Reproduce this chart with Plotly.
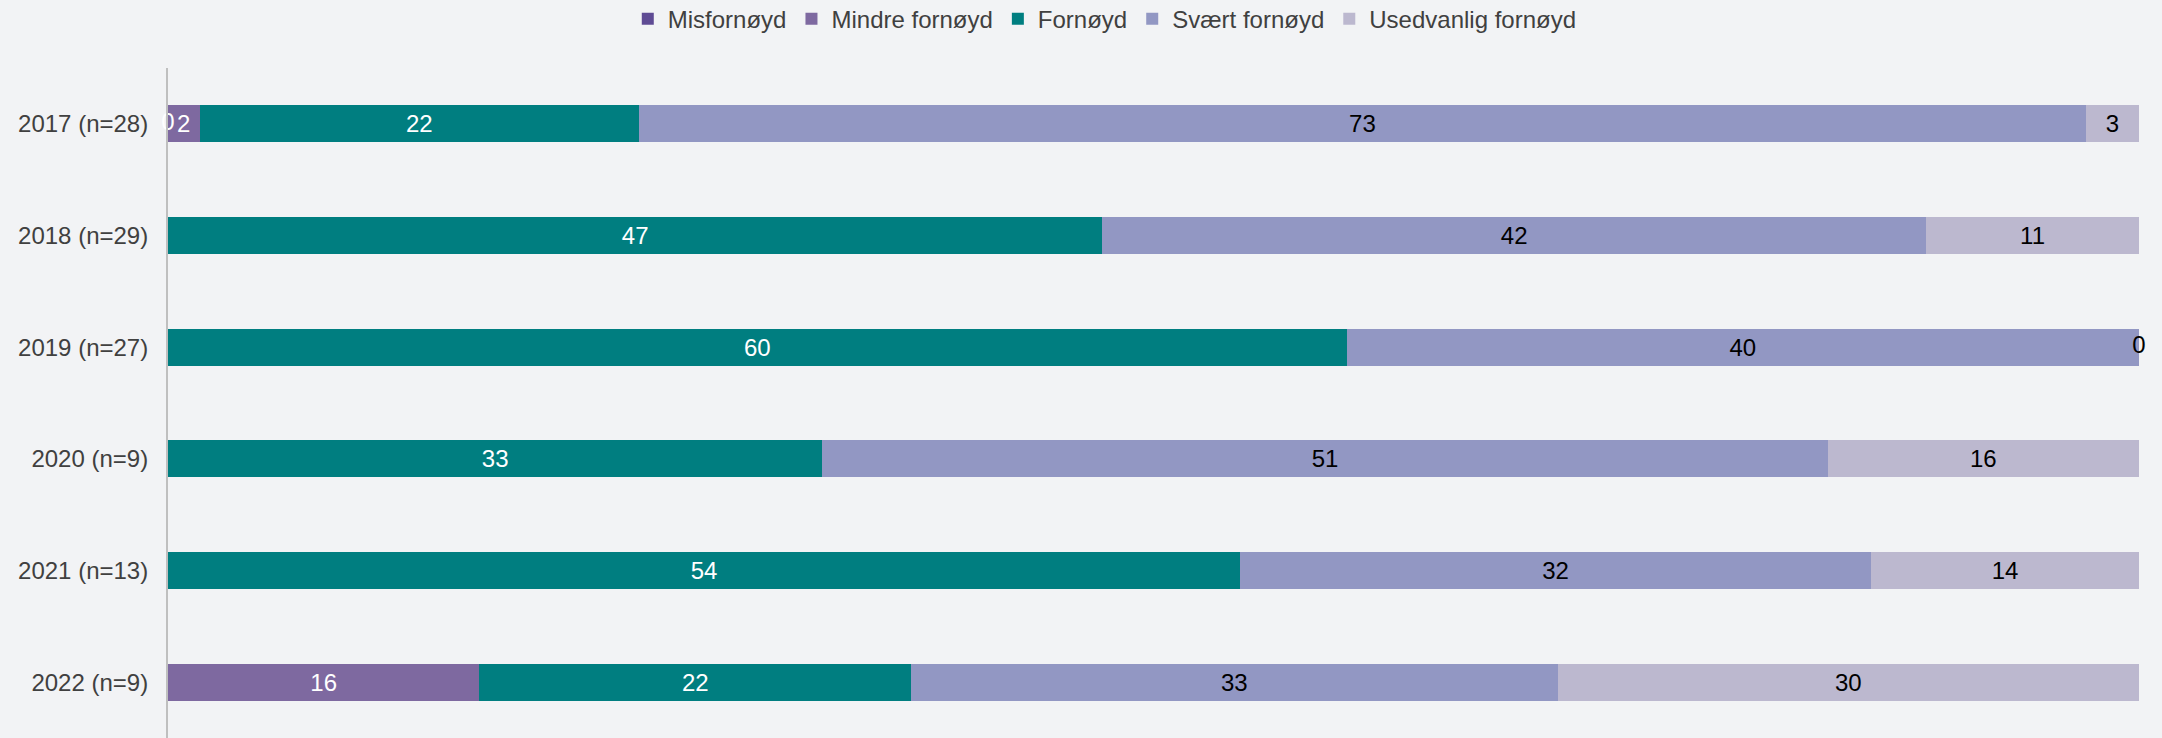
import plotly.graph_objects as go

categories = ["2017 (n=28)", "2018 (n=29)", "2019 (n=27)", "2020 (n=9)", "2021 (n=13)", "2022 (n=9)"]
series_names = ["Misfornøyd", "Mindre fornøyd", "Fornøyd", "Svært fornøyd", "Usedvanlig fornøyd"]
misfornoyd = [0, None, None, None, None, None]
mindre_fornoyd = [1.6, None, None, None, None, 15.8]
fornoyd = [22.3, 47.4, 59.8, 33.2, 54.4, 21.9]
svaert_fornoyd = [73.4, 41.8, 40.2, 51.0, 32.0, 32.8]
usedvanlig_fornoyd = [2.7, 10.8, 0, 15.8, 13.6, 29.5]

series_values = [misfornoyd, mindre_fornoyd, fornoyd, svaert_fornoyd, usedvanlig_fornoyd]
colors = ["#5F4B94", "#7E69A0", "#007E80", "#9297C3", "#BCB8CF"]
text_colors = ["#FFFFFF", "#FFFFFF", "#FFFFFF", "#000000", "#000000"]

fig = go.Figure()
for name, vals, col, tcol in zip(series_names, series_values, colors, text_colors):
    fig.add_trace(go.Bar(
        y=categories, x=vals, name=name, orientation="h",
        marker=dict(color=col, line=dict(width=0)),
        texttemplate="%{x:.0f}", textposition="inside", insidetextanchor="middle",
        textangle=0, constraintext="none",
        textfont=dict(size=24, color=tcol, family="Liberation Sans, Arial"),
        hoverinfo="skip", cliponaxis=False,
    ))

# labels for zero-valued segments (drawn at the segment's stacked position)
zx, zy, zc = [], [], []
for i, cat in enumerate(categories):
    cum = 0.0
    for vals, tcol in zip(series_values, text_colors):
        v = vals[i]
        if v is None:
            continue
        if v == 0:
            zx.append(cum)
            zy.append(cat)
            zc.append(tcol)
        cum += v
fig.add_trace(go.Scatter(
    x=zx, y=zy, mode="text", text=["0"] * len(zx),
    textposition="middle center",
    textfont=dict(size=24, color=zc, family="Liberation Sans, Arial"),
    showlegend=False, hoverinfo="skip", cliponaxis=False,
))

fig.update_layout(
    barmode="stack",
    bargap=0.67,
    width=2162, height=738,
    paper_bgcolor="#F2F3F5", plot_bgcolor="#F2F3F5",
    margin=dict(l=168, r=22, t=68, b=0),
    font=dict(family="Liberation Sans, Arial", size=24, color="#404040"),
    legend=dict(orientation="h", x=0.511, xanchor="center", xref="container",
                y=0.974, yanchor="middle", yref="container",
                font=dict(size=24, color="#404040"),
                traceorder="normal", itemwidth=30),
    showlegend=True,
)
fig.update_xaxes(range=[0, 100.05], showticklabels=False, showgrid=False, zeroline=False, showline=False)
fig.update_yaxes(autorange="reversed", showgrid=False, zeroline=False,
                 showline=True, linecolor="#BFBFBF", linewidth=2,
                 ticks="", ticklabelstandoff=13,
                 tickfont=dict(size=24, color="#404040"))

fig.write_html("out.html", config={"displayModeBar": False},
               post_script="document.body.style.margin='0';document.body.style.background='#F2F3F5';")
